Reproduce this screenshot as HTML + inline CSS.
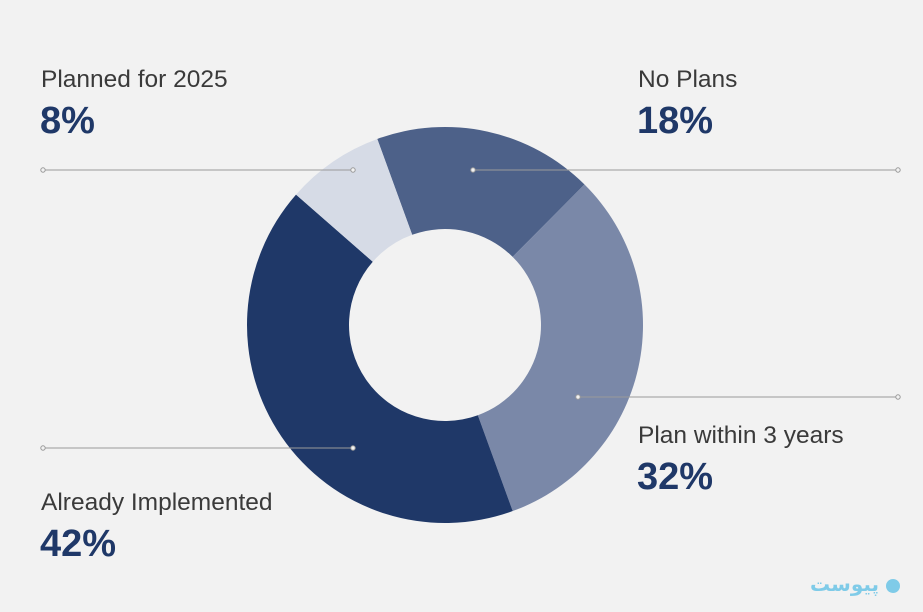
<!DOCTYPE html>
<html><head><meta charset="utf-8"><style>
html,body{margin:0;padding:0;background:#f2f2f2;}
body{width:923px;height:612px;position:relative;overflow:hidden;font-family:"Liberation Sans",sans-serif;}
.lbl{position:absolute;font-size:24.5px;color:#3a3a3a;}
.val{position:absolute;font-size:38px;font-weight:bold;color:#1f3868;}
</style></head><body>
<svg id="chart" width="923" height="612" style="position:absolute;left:0;top:0"></svg>
<div class="lbl" style="left:41px;top:66px">Planned for 2025</div>
<div class="val" style="left:40px;top:100px">8%</div>
<div class="lbl" style="left:638px;top:66px">No Plans</div>
<div class="val" style="left:637px;top:100px">18%</div>
<div class="lbl" style="left:638px;top:422px">Plan within 3 years</div>
<div class="val" style="left:637px;top:456px">32%</div>
<div class="lbl" style="left:41px;top:489px">Already Implemented</div>
<div class="val" style="left:40px;top:523px">42%</div>
<div style="position:absolute;left:810px;top:572px;color:#7fcbe8;font-size:20px;font-weight:bold;font-family:'DejaVu Sans',sans-serif">پیوست <span style="display:inline-block;width:14px;height:14px;border-radius:50%;background:#7fcbe8;vertical-align:middle"></span></div>
<script>
const categories=["No Plans","Plan within 3 years","Already Implemented","Planned for 2025"];
const values=[18,32,42,8];
const colors=["#4d6189","#7a88a8","#1f3868","#d6dbe6"];
const NS="http://www.w3.org/2000/svg";
const svg=document.getElementById("chart");
const cx=445,cy=325,R=198,r=96,start=-20;
const total=values.reduce((a,b)=>a+b,0);
function pt(a,rad){const t=a*Math.PI/180;return [cx+rad*Math.sin(t),cy-rad*Math.cos(t)];}
let a=start;
values.forEach((v,i)=>{
  const a2=a+v/total*360;const lg=(a2-a)>180?1:0;
  const p1=pt(a,R),p2=pt(a2,R),p3=pt(a2,r),p4=pt(a,r);
  const p=document.createElementNS(NS,"path");
  p.setAttribute("d",`M${p1}A${R},${R} 0 ${lg} 1 ${p2}L${p3}A${r},${r} 0 ${lg} 0 ${p4}Z`);
  p.setAttribute("fill",colors[i]);
  
  
  svg.appendChild(p);a=a2;
});
const leaders=[[43,353,170],[473,898,170],[578,898,397],[43,353,448]];
leaders.forEach((l,i)=>{
  const g=document.createElementNS(NS,"g");
  
  
  g.innerHTML=`<line x1="${l[0]}" y1="${l[2]}" x2="${l[1]}" y2="${l[2]}" stroke="#9a9a9a" stroke-width="1"/><circle cx="${l[0]}" cy="${l[2]}" r="2.2" fill="#f2f2f2" stroke="#9a9a9a"/><circle cx="${l[1]}" cy="${l[2]}" r="2.2" fill="#f2f2f2" stroke="#9a9a9a"/>`;
  svg.appendChild(g);
});
</script>
</body></html>
